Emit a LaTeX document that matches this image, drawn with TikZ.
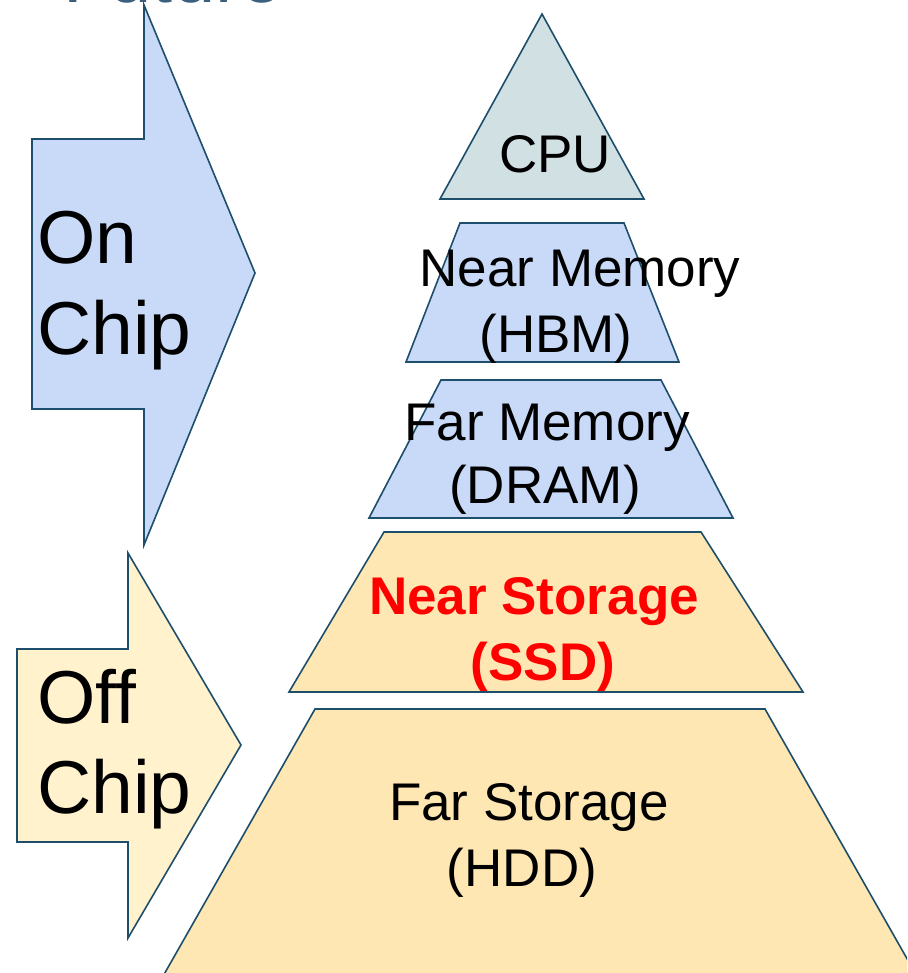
\documentclass[tikz,border=0pt]{standalone}
\usepackage{fontspec}
\setmainfont{Liberation Sans}
\definecolor{edge}{HTML}{1D4E6B}
\definecolor{memfill}{HTML}{C9DAF8}
\definecolor{cpufill}{HTML}{D0E0E3}
\definecolor{offfill}{HTML}{FFF2CC}
\definecolor{storfill}{HTML}{FEE7B2}
\definecolor{titlecol}{HTML}{3B5F7D}
\definecolor{hot}{HTML}{FF0000}
\tikzset{
  outline/.style={draw=edge, line width=1.6pt, line join=miter},
  lvl/.style={inner sep=0pt, anchor=base, font=\fontsize{53}{63}\selectfont},
  chiplbl/.style={inner sep=0pt, anchor=base west, font=\fontsize{75}{90}\selectfont},
}
\begin{document}
\begin{tikzpicture}[x=1pt, y=-1pt]
\useasboundingbox (0,0) rectangle (907,973);
\clip (0,0) rectangle (907,973);

% slide title, cut off by the upper edge
\node[inner sep=0pt, anchor=base west, text=titlecol,
      font=\fontsize{76}{90}\selectfont] (title) at (63,2.5) {Future};

% side arrows
\filldraw[outline, fill=memfill]
  (32,139) -- (144,139) -- (144,5) -- (255,273) -- (144,545) -- (144,409) -- (32,409) -- cycle;
\filldraw[outline, fill=offfill]
  (17,649) -- (128,649) -- (128,553) -- (241,745) -- (128,938) -- (128,842) -- (17,842) -- cycle;

\node[chiplbl] (on1)  at (37,264) {On};
\node[chiplbl] (on2)  at (37,354) {Chip};
\node[chiplbl] (off1) at (37,723) {Off};
\node[chiplbl] (off2) at (37,813) {Chip};

% pyramid levels
\filldraw[outline, fill=cpufill]  (542,14) -- (644,199) -- (440,199) -- cycle;
\filldraw[outline, fill=memfill]  (460,223) -- (624,223) -- (679,362) -- (406,362) -- cycle;
\filldraw[outline, fill=memfill]  (441,380) -- (661,380) -- (733,518) -- (369,518) -- cycle;
\filldraw[outline, fill=storfill] (384,532) -- (701,532) -- (803,692) -- (289,692) -- cycle;
\filldraw[outline, fill=storfill] (315,709) -- (765,709) -- (922,985) -- (158,985) -- cycle;

\node[lvl] (cpu) at (555,173) {CPU};
\node[lvl] (nm1) at (580,287) {Near Memory};
\node[lvl] (nm2) at (556,352) {(HBM)};
\node[lvl] (fm1) at (547,440) {Far Memory};
\node[lvl] (fm2) at (545,503) {(DRAM)};
\node[lvl, text=hot, font=\fontsize{53}{63}\selectfont\bfseries] (ns1) at (534,614) {Near Storage};
\node[lvl, text=hot, font=\fontsize{53}{63}\selectfont\bfseries] (ns2) at (543,680) {(SSD)};
\node[lvl] (fs1) at (529,820) {Far Storage};
\node[lvl] (fs2) at (522,886) {(HDD)};
\end{tikzpicture}
\end{document}
